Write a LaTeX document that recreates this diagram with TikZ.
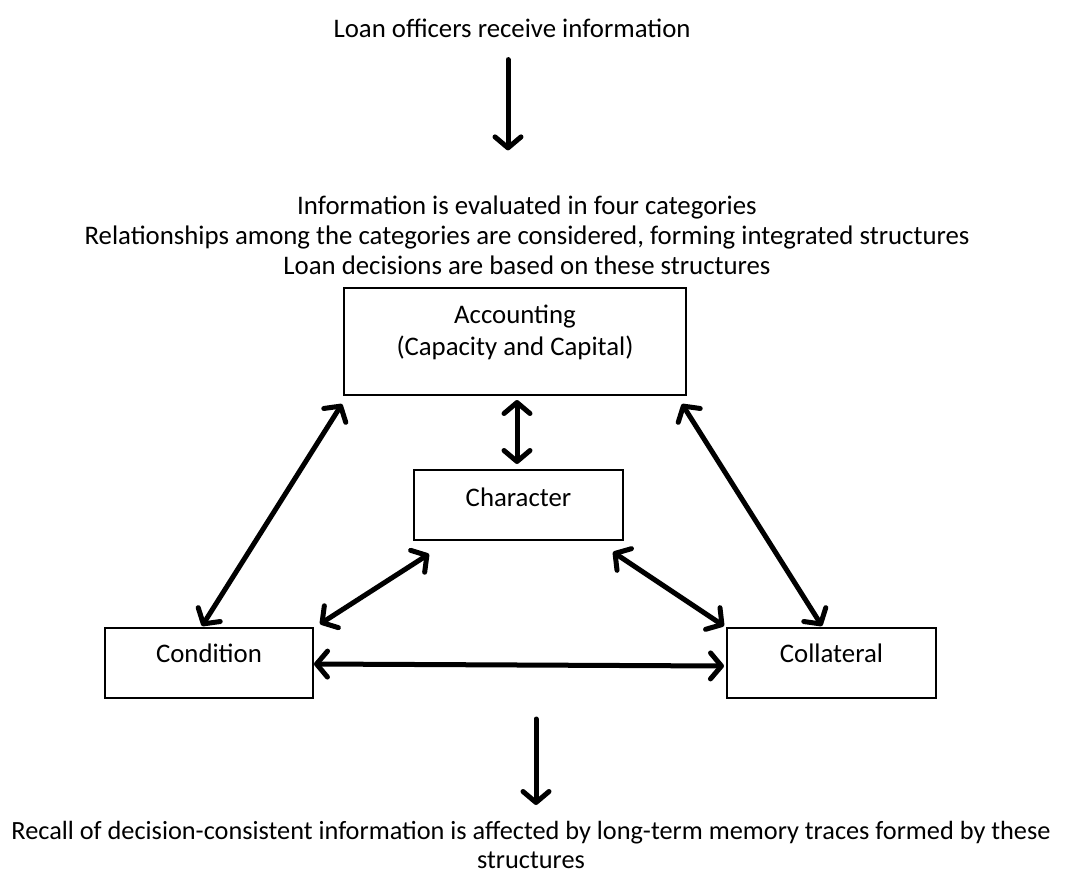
\documentclass[tikz,border=0pt]{standalone}
\usepackage{fontspec}
\setmainfont{Carlito}
\usetikzlibrary{arrows.meta,calc}
\begin{document}
\begin{tikzpicture}[x=1pt,y=-1pt,
  every node/.style={inner sep=0pt, font=\fontsize{26.8}{30}\selectfont},
  txt/.style={align=center},
  box/.style={draw, line width=2pt, inner sep=0pt},
  arr/.style={line width=5pt, line cap=round, -{Straight Barb[length=11pt,width=26pt,round]}},
  darr/.style={line width=5pt, line cap=round, {Straight Barb[length=11pt,width=26pt,round]}-{Straight Barb[length=11pt,width=26pt,round]}}]
\useasboundingbox (0,0) rectangle (1071,873);
% texts
\node[txt] (t1) at (512,28) {Loan officers receive information};
\node[txt] (t2) at (527,235) {Information is evaluated in four categories\\Relationships among the categories are considered, forming integrated structures\\Loan decisions are based on these structures};
% boxes
\node[box, minimum width=342pt, minimum height=107pt] (acc) at (515,341.5) {};
\node[txt, font=\fontsize{26.8}{32}\selectfont] (acct) at (515,332) {Accounting\\(Capacity and Capital)};
\node[box, minimum width=209pt, minimum height=70pt] (cha) at (518.5,505) {};
\node (chat) at (518.5,497) {Character};
\node[box, minimum width=208pt, minimum height=70pt] (con) at (209,663) {};
\node (cont) at (209,653) {Condition};
\node[box, minimum width=209pt, minimum height=70pt] (col) at (831.5,663) {};
\node (colt) at (831.5,653) {Collateral};
\node[txt, font=\fontsize{26.3}{28.5}\selectfont] (b) at (531,845) {Recall of decision-consistent information is affected by long-term memory traces formed by these\\structures};
\coordinate (bs) at (536,719);
% arrows
\draw[arr] ($(t1.south)+(-4,22)$) -- ($(t2.north)+(-19,-45)$);
\draw[arr] (bs) -- ++(0,86);
\draw[darr] ($(acc.south)+(2,4)$) -- ($(cha.north)+(-1.5,-5)$);
\draw[darr] ($(acc.south west)+(-1,8)$) -- ($(con.north)+(-7,-1)$);
\draw[darr] ($(acc.south east)+(-5,8)$) -- ($(col.north)+(-9.5,-1)$);
\draw[darr] ($(cha.south west)+(16,13)$) -- ($(con.north east)+(6,-3)$);
\draw[darr] ($(cha.south east)+(-11,11)$) -- ($(col.north west)+(-2,-1)$);
\draw[darr] ($(con.east)+(0,1)$) -- ($(col.west)+(-2,3)$);
\end{tikzpicture}
\end{document}
